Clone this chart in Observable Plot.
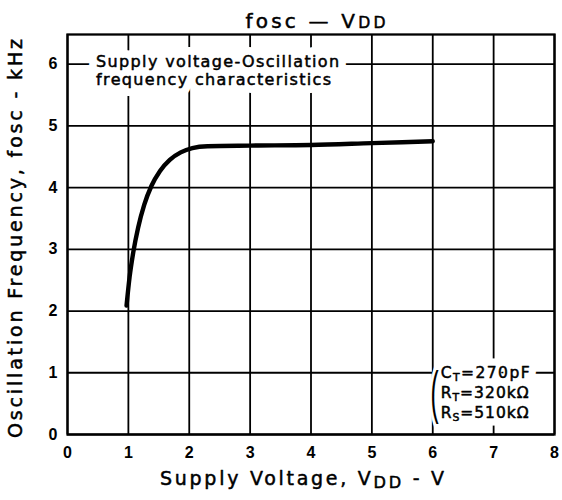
<!DOCTYPE html>
<html>
<head>
<meta charset="utf-8">
<script src="https://cdn.jsdelivr.net/npm/d3@7"></script>
<script src="https://cdn.jsdelivr.net/npm/@observablehq/plot@0.6"></script>
<style>
  html, body { margin: 0; padding: 0; background: #fff; }
  #chart svg { display: block; }
</style>
</head>
<body>
<div id="chart"></div>
<script>
// ---- data ----
const xTicks = [0, 1, 2, 3, 4, 5, 6, 7, 8];
const yTicks = [0, 1, 2, 3, 4, 5, 6];
const vdd  = [0.97, 1.02, 1.08, 1.16, 1.26, 1.38, 1.52, 1.68, 1.86, 2.05, 2.3, 3, 4, 5, 6];
const fosc = [2.09, 2.55, 2.95, 3.35, 3.72, 4.03, 4.27, 4.45, 4.57, 4.64, 4.67, 4.68, 4.69, 4.72, 4.75];
const titleText = "fosc — V{DD}";
const xLabel = "Supply Voltage, V{DD} - V";
const yLabel = "Oscillation Frequency, fosc - kHz";
const noteLines = ["Supply voltage-Oscillation", "frequency characteristics"];
const paramLines = ["C{T}=270pF", "R{T}=320kΩ", "R{S}=510kΩ"];
const bracket = "(";

const curve = vdd.map((v, i) => ({vdd: v, fosc: fosc[i]}));
const FONT = "'DejaVu Sans', 'Liberation Sans', sans-serif";

const noteOpts = {
  x: () => 0.47, y: (d, i) => 5.96 - i * 0.29,
  text: d => d, textAnchor: "start", lineAnchor: "bottom",
  fontFamily: FONT, fontSize: 16, fontWeight: "normal"
};
const bracketOpts = {
  x: () => 6.03, y: () => 0.66,
  text: d => d, textAnchor: "middle", lineAnchor: "middle",
  fontFamily: "'Liberation Sans', sans-serif", fontSize: 58, fontWeight: "normal"
};
const paramOpts = {
  x: () => 6.13, y: (d, i) => 0.92 - i * 0.325,
  text: d => d, textAnchor: "start", lineAnchor: "bottom",
  fontFamily: FONT, fontSize: 15.5, fontWeight: "normal"
};
const halo = w => ({fill: "none", stroke: "white", strokeWidth: w, strokeLinejoin: "round"});
const ink = {fill: "black", stroke: "black", strokeWidth: 0.5};

const chart = Plot.plot({
  width: 562,
  height: 500,
  marginLeft: 67,
  marginRight: 8,
  marginTop: 34,
  marginBottom: 66,
  style: {fontFamily: "'Liberation Sans', Arial, sans-serif", fontSize: "16px", fontWeight: "bold", color: "black", background: "white"},
  x: {domain: [0, 8], ticks: xTicks, tickSize: 0, tickPadding: 12, tickFormat: d => String(d), label: null},
  y: {domain: [0, 6.48], ticks: yTicks, tickSize: 0, tickPadding: 10, tickFormat: d => String(d), label: null},
  marks: [
    Plot.ruleX(xTicks, {stroke: "black", strokeWidth: 1.8}),
    Plot.ruleY(yTicks, {stroke: "black", strokeWidth: 1.8}),
    // white halos that break the grid behind the annotations
    Plot.text(noteLines, {...noteOpts, ...halo(16)}),
    Plot.text([bracket], {...bracketOpts, ...halo(12)}),
    Plot.text(paramLines, {...paramOpts, ...halo(15)}),
    // annotation ink
    Plot.text(noteLines, {...noteOpts, ...ink}),
    Plot.text([bracket], {...bracketOpts, fill: "black"}),
    Plot.text(paramLines, {...paramOpts, ...ink}),
    Plot.line(curve, {x: "vdd", y: "fosc", curve: "monotone-x", stroke: "black", strokeWidth: 4.4, strokeLinecap: "round"}),
    Plot.frame({stroke: "black", strokeWidth: 2.3}),
    Plot.text([titleText], {
      frameAnchor: "top", dx: 4.5, dy: -7, lineAnchor: "bottom", textAnchor: "middle",
      text: d => d, fontFamily: FONT, fontSize: 20, fontWeight: "normal", ...ink
    }),
    Plot.text([xLabel], {
      frameAnchor: "bottom", dx: -9, dy: 50, lineAnchor: "bottom", textAnchor: "middle",
      text: d => d, fontFamily: FONT, fontSize: 19, fontWeight: "normal", ...ink
    }),
    Plot.text([yLabel], {
      frameAnchor: "left", dx: -46, dy: 4, rotate: -90, lineAnchor: "bottom", textAnchor: "middle",
      text: d => d, fontFamily: FONT, fontSize: 19, fontWeight: "normal", ...ink
    })
  ]
});
document.getElementById("chart").appendChild(chart);

// ---- post-processing: subscripts / small caps and measured text widths ----
const NS = "http://www.w3.org/2000/svg";
function applySubs(el, shift, size) {
  const s = el.textContent;
  if (!s.includes("{")) return;
  while (el.firstChild) el.removeChild(el.firstChild);
  let shifted = false;
  for (const p of s.split(/(\{[^}]*\})/)) {
    if (!p) continue;
    const t = document.createElementNS(NS, "tspan");
    if (p.startsWith("{")) {
      t.textContent = p.slice(1, -1);
      t.setAttribute("font-size", size);
      if (shift) { t.setAttribute("dy", shift); shifted = true; }
    } else {
      t.textContent = p;
      if (shifted) { t.setAttribute("dy", -shift); shifted = false; }
    }
    el.appendChild(t);
  }
}
const fits = new Map([
  [titleText, {len: 140, shift: 0, size: "78%"}],
  [xLabel, {len: 284, shift: 3, size: "85%"}],
  [yLabel, {len: 399, shift: 0, size: "85%"}],
  [noteLines[0], {len: 243}],
  [noteLines[1], {len: 235}],
  [paramLines[0], {len: 89, shift: 3, size: "70%"}],
  [paramLines[1], {len: 88, shift: 3, size: "70%"}],
  [paramLines[2], {len: 88, shift: 3, size: "70%"}]
]);
chart.querySelectorAll("text").forEach(el => {
  const s = el.textContent;
  if (s === bracket) {
    el.setAttribute("transform", (el.getAttribute("transform") || "") + " scale(0.42,1)");
    return;
  }
  const f = fits.get(s);
  if (!f) return;
  applySubs(el, f.shift || 0, f.size || "80%");
  el.setAttribute("textLength", f.len);
  el.setAttribute("lengthAdjust", "spacing");
});
</script>
</body>
</html>
